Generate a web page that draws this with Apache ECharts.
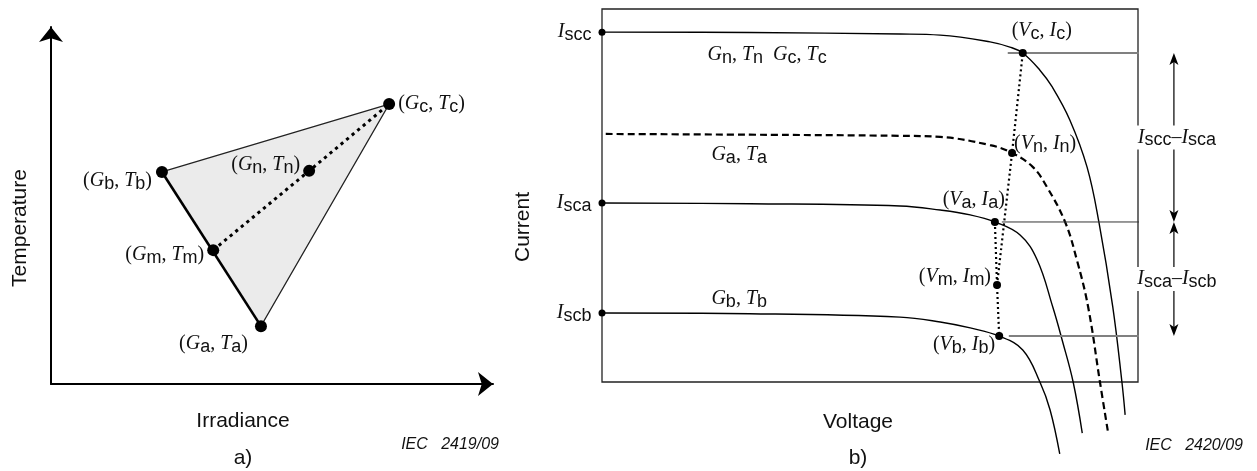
<!DOCTYPE html>
<html>
<head>
<meta charset="utf-8">
<script src="https://cdn.jsdelivr.net/npm/echarts@6/dist/echarts.min.js"></script>
<style>
  html, body { margin: 0; padding: 0; background: #fff; }
  #chart { width: 1257px; height: 471px; }
</style>
</head>
<body>
<div id="chart"></div>
<script>
// ---------- a) operating points in the irradiance / temperature plane ----------
const pointKeys        = ['a', 'b', 'c', 'm', 'n'];
const pointIrradiance  = [47.5, 25.1, 76.5, 36.7, 58.4];
const pointTemperature = [16.2, 59.4, 78.4, 37.5, 59.7];

// ---------- b) I-V curves (voltage, current in arbitrary units) ----------
const curveCVoltage = [0, 27.6, 55.6, 63.1, 72.4, 76.1, 78.5, 81.7, 84.0, 87.3, 90.5, 92.7, 95.3, 97.0, 97.6];
const curveCCurrent = [93.8, 93.7, 93.3, 93.0, 91.2, 89.8, 88.2, 83.6, 79.1, 70.2, 57.6, 42.9, 20.1, 0, -8.8];

const curveNVoltage = [0.7, 27.6, 55.6, 63.1, 72.4, 76.5, 80.4, 83.0, 86.4, 88.6, 90.7, 92.9, 94.4];
const curveNCurrent = [66.5, 66.3, 66.0, 65.7, 63.5, 61.4, 57.6, 52.3, 42.9, 32.7, 20.1, 0, -13.4];

const curveAVoltage = [0, 27.6, 55.6, 63.1, 68.7, 73.3, 78.0, 81.2, 84.1, 85.9, 87.9, 89.6];
const curveACurrent = [48.0, 47.8, 47.2, 46.1, 44.8, 42.9, 39.4, 32.7, 20.1, 11.0, 0, -13.7];

const curveBVoltage = [0, 27.6, 55.6, 63.1, 68.7, 74.1, 78.5, 81.7, 83.6, 85.4];
const curveBCurrent = [18.5, 18.3, 17.4, 16.1, 14.5, 12.3, 8.6, 0, -7.5, -19.3];

// operating points on the curves
const opKeys    = ['c', 'n', 'a', 'm', 'b'];
const opVoltage = [78.5, 76.5, 73.3, 73.7, 74.1];
const opCurrent = [88.2, 61.4, 42.9, 26.0, 12.3];

// short-circuit currents
const iscKeys    = ['scc', 'sca', 'scb'];
const iscCurrent = [93.8, 48.0, 18.5];

// reference levels drawn to the right of the frame
const levelKeys   = ['c', 'a', 'b'];
const levelStartV = [75.7, 74.6, 75.9];
const levelEndV   = [113.8, 113.6, 113.4];
const diffArrowV  = 106.7;

// ---------- helpers ----------
const TXT = '#111';
function richStyles() {
  return {
    v: { fontFamily: 'Liberation Serif', fontStyle: 'italic', fontSize: 20, lineHeight: 22, color: TXT, fill: TXT },
    p: { fontFamily: 'Liberation Serif', fontSize: 20, lineHeight: 22, color: TXT, fill: TXT },
    s: { fontFamily: 'Liberation Sans', fontSize: 18, height: 16, verticalAlign: 'bottom', color: TXT, fill: TXT }
  };
}
const sym  = (letter, sub) => `{v|${letter}}{s|${sub}}`;
const pair = (a, b, sub) => `{p|(}${sym(a, sub)}{p|, }${sym(b, sub)}{p|)}`;
const zip  = (xs, ys) => xs.map((x, i) => [x, ys[i]]);

const P = k => { const i = pointKeys.indexOf(k); return [pointIrradiance[i], pointTemperature[i]]; };
const O = k => { const i = opKeys.indexOf(k); return [opVoltage[i], opCurrent[i]]; };
const opI = k => opCurrent[opKeys.indexOf(k)];

// label placement relative to each marker
const placeA = {
  c: { align: 'left',  offset: [9, 0] },
  b: { align: 'right', offset: [-10, 9] },
  n: { align: 'right', offset: [-9, -6] },
  m: { align: 'right', offset: [-9, 5] },
  a: { align: 'right', offset: [-13, 18] }
};
const placeB = {
  c: { align: 'center', offset: [19, -22] },
  n: { align: 'left',   offset: [2, -9] },
  a: { align: 'right',  offset: [10, -22] },
  m: { align: 'right',  offset: [-6, -8] },
  b: { align: 'right',  offset: [-4, 9] }
};

const arrowAxis = {
  show: true, onZero: false,
  lineStyle: { color: '#000', width: 2 },
  symbol: ['none', 'arrow'], symbolSize: [18, 15]
};

const series = [];

// --- a) shaded triangle
series.push({
  type: 'custom', xAxisIndex: 0, yAxisIndex: 0, clip: false, z: 1,
  data: [[0]],
  renderItem: (params, api) => ({
    type: 'polygon',
    shape: { points: ['a', 'b', 'c'].map(k => api.coord(P(k))) },
    style: { fill: '#ebebeb', stroke: 'none' }
  })
});
// thin edges b-c-a
series.push({
  type: 'line', xAxisIndex: 0, yAxisIndex: 0, symbol: 'none', z: 2,
  data: ['b', 'c', 'a'].map(P),
  lineStyle: { color: '#222', width: 1.2 }
});
// bold edge a-b
series.push({
  type: 'line', xAxisIndex: 0, yAxisIndex: 0, symbol: 'none', z: 2,
  data: ['a', 'b'].map(P),
  lineStyle: { color: '#000', width: 2.6 }
});
// dotted interpolation m-n-c
series.push({
  type: 'line', xAxisIndex: 0, yAxisIndex: 0, symbol: 'none', z: 3,
  data: ['m', 'n', 'c'].map(P),
  lineStyle: { color: '#000', width: 3, type: [3.2, 4] }
});
// points with labels
series.push({
  type: 'scatter', xAxisIndex: 0, yAxisIndex: 0, z: 5, clip: false,
  symbolSize: 12, itemStyle: { color: '#000', opacity: 1 },
  data: pointKeys.map(k => ({
    value: P(k),
    label: {
      show: true, position: 'inside', verticalAlign: 'middle',
      align: placeA[k].align, offset: placeA[k].offset,
      formatter: pair('G', 'T', k), rich: richStyles()
    }
  }))
});

// --- b) I-V curves
const curveSets = [
  [curveCVoltage, curveCCurrent, 'solid'],
  [curveNVoltage, curveNCurrent, 'dashed'],
  [curveAVoltage, curveACurrent, 'solid'],
  [curveBVoltage, curveBCurrent, 'solid']
];
curveSets.forEach(([vs, is, kind]) => {
  series.push({
    type: 'line', xAxisIndex: 1, yAxisIndex: 1, symbol: 'none', clip: false, z: 2,
    smooth: 0.4,
    data: zip(vs, is),
    lineStyle: kind === 'dashed'
      ? { color: '#000', width: 2.2, type: [7, 4] }
      : { color: '#000', width: 1.4 }
  });
});

// dotted interpolation paths between operating points
[['a', 'm', 'b'], ['m', 'n', 'c']].forEach(path => {
  series.push({
    type: 'line', xAxisIndex: 1, yAxisIndex: 1, symbol: 'none', clip: false, z: 3,
    data: path.map(O),
    lineStyle: { color: '#000', width: 2.2, type: [2, 3] }
  });
});

// reference levels Ic, Ia, Ib
levelKeys.forEach((k, i) => {
  series.push({
    type: 'line', xAxisIndex: 1, yAxisIndex: 1, symbol: 'none', clip: false, z: 2,
    data: [[levelStartV[i], opI(k)], [levelEndV[i], opI(k)]],
    lineStyle: k === 'a' ? { color: '#333', width: 1 } : { color: '#808080', width: 2 }
  });
});

// operating points
series.push({
  type: 'scatter', xAxisIndex: 1, yAxisIndex: 1, z: 5, clip: false,
  symbolSize: 8, itemStyle: { color: '#000', opacity: 1 },
  data: opKeys.map(k => ({
    value: O(k),
    label: {
      show: true, position: 'inside', verticalAlign: 'middle',
      align: placeB[k].align, offset: placeB[k].offset,
      formatter: pair('V', 'I', k), rich: richStyles()
    }
  }))
});

// short-circuit current markers on the current axis
series.push({
  type: 'scatter', xAxisIndex: 1, yAxisIndex: 1, z: 5, clip: false,
  symbolSize: 7, itemStyle: { color: '#000', opacity: 1 },
  data: iscKeys.map((k, i) => ({
    value: [0, iscCurrent[i]],
    label: {
      show: true, position: 'left', distance: 7,
      formatter: sym('I', k), rich: richStyles()
    }
  }))
});

// curve condition tags
series.push({
  type: 'scatter', xAxisIndex: 1, yAxisIndex: 1, z: 4, clip: false,
  symbolSize: 0, silent: true, itemStyle: { color: '#000', opacity: 1 },
  data: [
    { value: [30.8, 87.7], text: `${sym('G', 'n')}{p|, }${sym('T', 'n')}{p|  }${sym('G', 'c')}{p|, }${sym('T', 'c')}` },
    { value: [25.6, 60.8], text: `${sym('G', 'a')}{p|, }${sym('T', 'a')}` },
    { value: [25.6, 22.3], text: `${sym('G', 'b')}{p|, }${sym('T', 'b')}` }
  ].map(d => ({
    value: d.value,
    label: { show: true, position: 'inside', align: 'center', verticalAlign: 'middle', color: TXT, opacity: 1, formatter: d.text, rich: richStyles() }
  }))
});

// difference arrows  Iscc–Isca  and  Isca–Iscb
series.push({
  type: 'custom', xAxisIndex: 1, yAxisIndex: 1, clip: false, z: 4,
  data: [
    [diffArrowV, opI('c'), opI('a'), 0],
    [diffArrowV, opI('a'), opI('b'), 1]
  ],
  renderItem: (params, api) => {
    const v = api.value(0);
    const top = api.coord([v, api.value(1)]);
    const bot = api.coord([v, api.value(2)]);
    const labels = [
      `${sym('I', 'scc')}{p|–}${sym('I', 'sca')}`,
      `${sym('I', 'sca')}{p|–}${sym('I', 'scb')}`
    ];
    const head = (tip, dir) => {
      const L = 12, W = 4.5, N = 9;
      return {
        type: 'polygon',
        shape: { points: [
          [tip[0], tip[1]],
          [tip[0] - W, tip[1] - dir * L],
          [tip[0], tip[1] - dir * N],
          [tip[0] + W, tip[1] - dir * L]
        ] },
        style: { fill: '#000' }
      };
    };
    return {
      type: 'group',
      children: [
        { type: 'line', shape: { x1: top[0], y1: top[1] + 8, x2: bot[0], y2: bot[1] - 8 },
          style: { stroke: '#000', lineWidth: 1.2 } },
        head(top, -1),
        head(bot, 1),
        { type: 'text', x: top[0] + 3, y: (top[1] + bot[1]) / 2,
          style: { text: labels[api.value(3)], rich: richStyles(), align: 'center', verticalAlign: 'middle',
                   backgroundColor: '#fff', padding: [1, 2] } }
      ]
    };
  }
});

// free-standing texts
const sans = (txt, x, y, extra) => Object.assign({
  type: 'text', x, y,
  style: { text: txt, fontFamily: 'Liberation Sans', fontSize: 21, fill: TXT, align: 'center', verticalAlign: 'middle' }
}, extra || {});

const option = {
  animation: false,
  backgroundColor: '#fff',
  grid: [
    { left: 51, top: 27, width: 442, height: 357, show: false },
    { left: 602, top: 9, width: 536, height: 373, show: true, borderColor: '#222', borderWidth: 1.3, backgroundColor: 'transparent' }
  ],
  xAxis: [
    { gridIndex: 0, type: 'value', min: 0, max: 100, axisLine: arrowAxis,
      axisTick: { show: false }, axisLabel: { show: false }, splitLine: { show: false } },
    { gridIndex: 1, type: 'value', min: 0, max: 100, show: false, splitLine: { show: false } }
  ],
  yAxis: [
    { gridIndex: 0, type: 'value', min: 0, max: 100, axisLine: arrowAxis,
      axisTick: { show: false }, axisLabel: { show: false }, splitLine: { show: false } },
    { gridIndex: 1, type: 'value', min: 0, max: 100, show: false, splitLine: { show: false } }
  ],
  graphic: [
    sans('Temperature', 20, 228, { rotation: Math.PI / 2 }),
    sans('Irradiance', 243, 421),
    sans('a)', 243, 458),
    sans('Current', 523, 227, { rotation: Math.PI / 2 }),
    sans('Voltage', 858, 422),
    sans('b)', 858, 458),
    { type: 'text', x: 499, y: 445,
      style: { text: 'IEC   2419/09', fontFamily: 'Liberation Sans', fontStyle: 'italic', fontSize: 16, fill: TXT, align: 'right', verticalAlign: 'middle' } },
    { type: 'text', x: 1243, y: 446,
      style: { text: 'IEC   2420/09', fontFamily: 'Liberation Sans', fontStyle: 'italic', fontSize: 16, fill: TXT, align: 'right', verticalAlign: 'middle' } }
  ],
  series
};

const chart = echarts.init(document.getElementById('chart'));
chart.setOption(option);
</script>
</body>
</html>
